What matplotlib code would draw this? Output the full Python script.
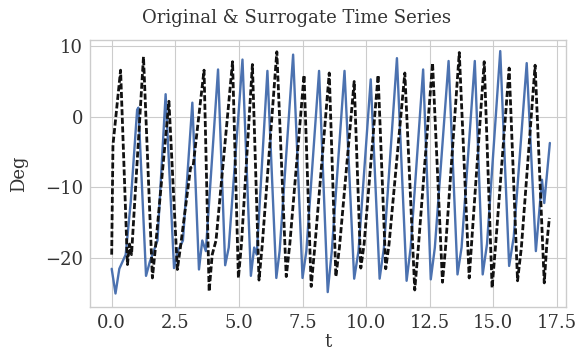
import matplotlib
matplotlib.use("Agg")
import matplotlib.pyplot as plt

# original series (t, deg)
t_orig = [0.0, 0.15, 0.3, 0.55, 0.75, 1.0, 1.05, 1.35, 1.5, 1.8, 2.12, 2.45, 2.6, 2.8,
          3.17, 3.43, 3.56, 3.7, 4.18, 4.46, 4.6, 5.14, 5.47, 5.6, 5.7, 6.12, 6.47, 6.6,
          7.13, 7.5, 7.65, 8.15, 8.49, 8.65, 9.15, 9.53, 9.7, 10.18, 10.53, 10.7, 11.21,
          11.59, 11.75, 12.24, 12.54, 12.7, 13.24, 13.59, 13.75, 14.27, 14.58, 14.75,
          15.27, 15.62, 15.8, 16.31, 16.67, 16.91, 17.0, 17.22]
y_orig = [-21.5, -25.0, -21.5, -19.5, -12.0, 1.0, 1.3, -22.5, -20.5, -17.5, 3.2, -21.4, -19.0, -17.5,
          2.0, -21.6, -17.5, -19.0, 6.7, -21.0, -18.5, 8.1, -22.5, -18.5, -19.5, 6.5, -22.8, -19.0,
          8.8, -22.8, -19.0, 6.5, -24.8, -19.0, 6.5, -22.9, -19.0, 5.3, -22.9, -18.5, 8.3,
          -23.2, -18.5, 6.7, -23.0, -18.5, 7.9, -22.3, -18.5, 7.9, -22.3, -18.0,
          9.3, -21.1, -17.0, 7.6, -19.0, -8.9, -12.2, -3.7]

# surrogate series
t_surr = [0.0, 0.05, 0.35, 0.62, 0.7, 0.78, 1.25, 1.6, 1.72, 2.25, 2.58, 2.7, 3.1, 3.2,
          3.63, 3.83, 3.95, 4.1, 4.75, 4.98, 5.1, 5.53, 5.79, 5.92, 6.49, 6.86, 7.0,
          7.56, 7.84, 7.98, 8.55, 8.81, 8.95, 9.53, 9.79, 9.92, 10.47, 10.77, 10.9,
          11.52, 11.91, 12.05, 12.61, 13.0, 13.12, 13.66, 14.05, 14.18, 14.64, 14.95,
          15.08, 15.62, 15.95, 16.1, 16.64, 17.0, 17.1, 17.2]
y_surr = [-19.5, -4.0, 6.6, -20.9, -18.0, -19.5, 8.5, -22.8, -18.5, 2.2, -21.6, -18.5, -7.2, -7.0,
          6.6, -24.7, -19.5, -17.5, 7.8, -22.8, -18.0, 7.4, -23.1, -18.0, 9.2, -22.6, -18.0,
          5.9, -24.0, -18.5, 6.2, -22.6, -18.5, 5.0, -21.4, -18.0, 5.9, -21.5, -18.0,
          6.2, -24.5, -18.5, 7.6, -23.4, -18.5, 9.1, -22.8, -16.0, 7.8, -24.2,
          -18.5, 6.9, -23.2, -18.5, 7.3, -23.5, -18.0, -14.3]

plt.style.use("seaborn-v0_8-whitegrid")
plt.rcParams["font.family"] = "serif"
plt.rcParams["font.serif"] = ["DejaVu Serif"]

fig = plt.figure(figsize=(5.81, 3.52), dpi=100)
ax = fig.add_axes([0.155, 0.128, 0.819, 0.758])

ax.plot(t_orig, y_orig, color="#4C72B0", lw=1.7)
ax.plot(t_surr, y_surr, color="#111111", lw=2.0, linestyle=(0, (2.2, 0.9)))

ax.set_xlim(-0.85, 17.85)
ax.set_ylim(-26.9, 10.85)
ax.set_xticks([0, 2.5, 5, 7.5, 10, 12.5, 15, 17.5])
ax.set_yticks([-20, -10, 0, 10])
ax.tick_params(labelsize=13, pad=5, colors="#333333")
ax.set_xlabel("t", fontsize=13, labelpad=1, color="#333333")
ax.set_ylabel("Deg", fontsize=13, labelpad=12, color="#333333")
# title sits centred on the figure, not on the axes
fig.text(0.51, 0.948, "Original & Surrogate Time Series", fontsize=13,
         color="#333333", ha="center", va="center")

fig.savefig("out.png", dpi=100)
